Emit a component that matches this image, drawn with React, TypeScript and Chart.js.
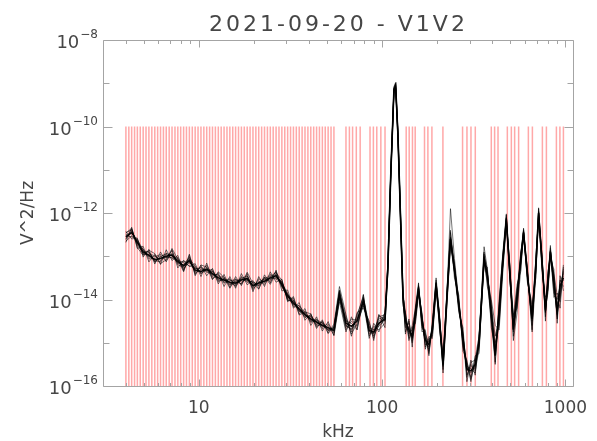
import React, { useEffect, useRef } from 'react';
import { Chart, registerables } from 'chart.js';

Chart.register(...registerables);

// ---------- text ----------
const titleText = '2021-09-20 - V1V2';
const xAxisTitle = 'kHz';
const yAxisTitle = 'V^2/Hz';

// ---------- axes ----------
const xMin = 3;
const xMax = 1100;
const yMin = 1e-16;
const yMax = 1e-8;
const xMajorTicks = [10, 100, 1000];
const xMajorLabels = ['10', '100', '1000'];
const xMinorTicks = [4, 5, 6, 7, 8, 9, 20, 30, 40, 50, 60, 70, 80, 90, 200, 300, 400, 500, 600, 700, 800, 900];
const yMajorTicks = [1e-16, 1e-14, 1e-12, 1e-10, 1e-8];
const yMajorBase = '10';
const yMajorSup = ['\u221216', '\u221214', '\u221212', '\u221210', '\u22128'];
const yMinorTicks = [1e-15, 1e-13, 1e-11, 1e-9];

// ---------- selected channels (red vertical lines, kHz) ----------
const channelFreqsKHz = [
  4.00, 4.15, 4.30, 4.46, 4.62, 4.79, 4.97, 5.15, 5.34, 5.54, 5.75, 5.96, 6.18, 6.41, 6.64, 6.89,
  7.14, 7.41, 7.68, 7.96, 8.26, 8.56, 8.88, 9.21, 9.55, 9.90, 10.27, 10.65, 11.04, 11.45, 11.87,
  12.31, 12.77, 13.24, 13.73, 14.24, 14.76, 15.31, 15.87, 16.46, 17.07, 17.70, 18.36, 19.03, 19.74,
  20.47, 21.22, 22.01, 22.82, 23.67, 24.54, 25.45, 26.39, 27.37, 28.38, 29.43, 30.52, 31.65, 32.82,
  34.03, 35.29, 36.60, 37.95, 39.36, 40.81, 42.32, 43.89, 45.51, 47.20, 48.94, 50.75, 52.63, 54.58,
  63.5, 66.3, 69.0, 72.3, 75.9, 85.9, 89.6, 93.5, 98.4, 103.7,
  135.3, 140.5, 146.4, 151.5, 170.3, 177.7, 186.9, 214.6,
  274.7, 290.3, 305.3, 322.3, 394.1, 410.9, 428.8, 482.1, 507.0, 528.4, 555.6,
  627.9, 660.4, 748.8, 787.5, 892.9, 933.1, 975.2,
];
const channelBottom = 1e-16;
const channelTop = 1e-10;

// ---------- spectra (log10 of V^2/Hz) ----------
const spectrumFreqsKHz = [
  4.00, 4.30, 4.62, 4.97, 5.34, 5.75, 6.18, 6.64, 7.14, 7.68, 8.26, 8.88, 9.55, 10.27, 11.04, 11.87,
  12.77, 13.73, 14.76, 15.87, 17.07, 18.36, 19.74, 21.22, 22.82, 24.54, 26.39, 28.38, 30.52, 32.82,
  35.29, 37.95, 40.81, 43.89, 47.20, 50.75, 54.58,
  58.5, 63.5, 68.0, 73.0, 79.0, 85.0, 90.0, 96.0,
  103.7, 107.5, 111.5, 116.0, 118.5, 122.0, 126.0, 130.0, 134.0,
  140, 146, 152, 158, 165, 172, 180, 188, 197, 205, 215, 225, 236, 248, 262, 276, 290, 305, 322, 338,
  360, 375, 394, 414, 435, 455, 476, 498, 520, 545, 570, 591, 620, 658, 690, 714, 745, 778, 803, 828,
  865, 902, 935, 975,
];

const spectrumMedianLog = [
  -12.55, -12.45, -12.68, -12.90, -12.98, -13.08, -13.05, -13.00, -12.97, -13.12, -13.22, -13.10, -13.32, -13.35, -13.30, -13.40,
  -13.50, -13.55, -13.60, -13.62, -13.55, -13.52, -13.68, -13.62, -13.58, -13.50, -13.45, -13.65, -13.92, -14.08,
  -14.22, -14.35, -14.45, -14.52, -14.60, -14.65, -14.72,
  -13.90, -14.55, -14.62, -14.50, -14.02, -14.72, -14.75, -14.55,
  -14.45, -13.25, -11.10, -9.15, -9.05, -10.20, -12.10, -13.95, -14.50,
  -14.70, -14.85, -14.35, -13.75, -14.47, -14.93, -15.05, -14.70, -13.65, -14.43, -15.50, -14.05, -12.60, -13.30, -14.10, -14.90, -15.60, -15.65, -15.50, -15.00,
  -13.05, -13.45, -14.35, -15.30, -14.25, -13.10, -12.15, -13.40, -14.70, -13.90, -13.10, -12.45, -13.40, -14.45, -13.20, -12.00, -13.10, -14.25, -13.60, -12.90,
  -13.60, -14.30, -13.70, -13.50,
];

const spectrumA_Log = [
  -12.50, -12.48, -12.60, -12.96, -12.96, -12.98, -13.10, -12.96, -13.05, -13.09, -13.15, -13.22, -13.27, -13.37, -13.21, -13.44,
  -13.44, -13.62, -13.57, -13.54, -13.60, -13.50, -13.74, -13.52, -13.61, -13.45, -13.53, -13.61, -13.86, -14.13,
  -14.15, -14.37, -14.40, -14.58, -14.52, -14.68, -14.68,
  -13.80, -14.40, -14.75, -14.35, -13.95, -14.60, -14.90, -14.40,
  -14.35, -13.15, -11.02, -9.10, -9.00, -10.12, -12.00, -13.85, -14.30,
  -14.85, -14.60, -14.20, -13.68, -14.60, -14.75, -15.25, -14.55, -13.50, -14.30, -15.40, -13.95, -12.45, -13.20, -14.00, -15.10, -15.45, -15.80, -15.35, -14.85,
  -12.90, -13.35, -14.20, -15.15, -14.40, -13.20, -12.05, -13.30, -14.85, -14.05, -13.00, -12.38, -13.30, -14.60, -13.30, -11.95, -13.00, -14.40, -13.45, -12.80,
  -13.75, -14.10, -13.90, -13.30,
];

const spectrumB_Log = [
  -12.61, -12.41, -12.70, -12.83, -13.06, -13.05, -12.99, -13.10, -12.93, -13.17, -13.20, -13.02, -13.39, -13.30, -13.33, -13.34,
  -13.59, -13.51, -13.62, -13.68, -13.47, -13.56, -13.61, -13.65, -13.53, -13.58, -13.42, -13.71, -13.90, -14.01,
  -14.27, -14.27, -14.49, -14.49, -14.67, -14.60, -14.82,
  -13.95, -14.70, -14.50, -14.62, -14.10, -14.85, -14.62, -14.70,
  -14.55, -13.35, -11.20, -9.25, -9.12, -10.30, -12.20, -14.05, -14.65,
  -14.55, -15.00, -14.50, -13.82, -14.35, -15.10, -14.90, -14.85, -13.75, -14.55, -15.62, -14.15, -12.70, -13.40, -14.25, -14.75, -15.75, -15.50, -15.65, -15.15,
  -13.15, -13.60, -14.50, -15.45, -14.10, -13.00, -12.25, -13.55, -14.55, -13.75, -13.20, -12.55, -13.50, -14.30, -13.05, -12.10, -13.25, -14.10, -13.75, -13.00,
  -13.45, -14.45, -13.55, -13.70,
];

const spectrumC_Log = [
  -12.45, -12.39, -12.73, -12.88, -12.90, -13.14, -13.02, -13.04, -12.87, -13.20, -13.25, -13.05, -13.23, -13.41, -13.26, -13.48,
  -13.48, -13.48, -13.65, -13.58, -13.64, -13.46, -13.70, -13.57, -13.65, -13.47, -13.37, -13.70, -13.96, -14.02,
  -14.24, -14.42, -14.36, -14.55, -14.55, -14.71, -14.64,
  -13.78, -14.60, -14.68, -14.40, -13.90, -14.80, -14.70, -14.45,
  -14.40, -13.20, -11.05, -9.18, -9.08, -10.25, -12.05, -13.90, -14.40,
  -14.90, -14.75, -14.25, -13.70, -14.55, -14.95, -15.15, -14.65, -13.60, -14.35, -15.45, -14.00, -11.90, -13.05, -14.05, -15.00, -15.55, -15.60, -15.70, -14.90,
  -12.78, -13.30, -14.40, -15.20, -14.30, -13.15, -12.10, -13.45, -14.75, -13.80, -12.95, -12.40, -13.45, -14.50, -13.15, -11.88, -13.15, -14.30, -13.55, -12.85,
  -13.70, -14.35, -13.60, -13.40,
];

const spectrumD_Log = [
  -12.65, -12.53, -12.64, -12.95, -12.92, -13.10, -13.13, -12.93, -13.00, -13.03, -13.28, -13.14, -13.29, -13.27, -13.37, -13.35,
  -13.54, -13.57, -13.52, -13.66, -13.49, -13.60, -13.64, -13.68, -13.49, -13.52, -13.50, -13.58, -13.99, -14.11,
  -14.14, -14.31, -14.51, -14.45, -14.64, -14.56, -14.77,
  -14.00, -14.45, -14.80, -14.55, -14.15, -14.55, -14.85, -14.60,
  -14.30, -13.30, -11.15, -9.20, -9.10, -10.18, -12.15, -14.00, -14.75,
  -14.50, -14.95, -14.45, -13.78, -14.65, -14.80, -15.00, -14.75, -13.70, -14.48, -15.55, -14.10, -12.65, -13.35, -14.15, -14.80, -15.90, -15.45, -15.40, -15.05,
  -13.10, -13.50, -14.00, -14.60, -14.70, -13.40, -12.20, -13.40, -14.35, -14.20, -13.35, -12.50, -13.35, -14.75, -13.40, -12.05, -13.05, -14.20, -13.85, -12.95,
  -13.40, -13.90, -14.20, -13.20,
];

const spectrumE_Log = [
  -12.52, -12.55, -12.62, -12.85, -13.02, -13.01, -12.96, -13.03, -13.03, -13.06, -13.31, -13.07, -13.36, -13.25, -13.35, -13.43,
  -13.42, -13.60, -13.54, -13.70, -13.52, -13.45, -13.77, -13.60, -13.52, -13.55, -13.35, -13.68, -13.87, -14.16,
  -14.19, -14.40, -14.38, -14.60, -14.58, -14.69, -14.66,
  -13.85, -14.50, -14.55, -14.70, -14.00, -14.75, -14.80, -14.35,
  -14.50, -13.28, -11.12, -9.12, -9.02, -10.22, -12.08, -13.98, -14.55,
  -14.65, -14.90, -14.30, -13.72, -14.40, -15.00, -15.10, -14.60, -13.62, -14.40, -15.48, -14.02, -12.58, -13.28, -14.08, -14.95, -15.62, -15.70, -15.55, -14.95,
  -13.00, -13.42, -14.32, -15.28, -14.22, -13.08, -12.12, -13.38, -14.68, -13.88, -13.08, -12.42, -13.38, -14.42, -13.18, -11.98, -13.08, -14.22, -13.58, -12.88,
  -13.58, -14.28, -13.65, -13.55,
];

const spectrumF_Log = [
  -12.59, -12.37, -12.75, -12.93, -12.89, -13.13, -13.01, -12.94, -12.99, -13.16, -13.12, -13.16, -13.24, -13.39, -13.32, -13.31,
  -13.56, -13.52, -13.67, -13.57, -13.53, -13.57, -13.59, -13.69, -13.55, -13.42, -13.49, -13.59, -14.01, -14.04,
  -14.28, -14.32, -14.53, -14.47, -14.54, -14.72, -14.69,
  -13.92, -14.65, -14.45, -14.48, -14.05, -14.68, -14.78, -14.50,
  -14.42, -13.22, -11.08, -9.15, -9.06, -10.15, -12.12, -13.92, -14.35,
  -14.80, -14.70, -14.40, -13.80, -14.50, -15.05, -14.95, -14.72, -13.68, -14.45, -15.52, -14.08, -12.62, -13.32, -14.12, -15.05, -15.50, -15.85, -15.45, -15.10,
  -13.08, -13.48, -14.15, -14.85, -14.45, -13.25, -12.18, -13.25, -14.50, -13.95, -13.15, -12.48, -13.55, -14.25, -13.35, -12.02, -13.20, -14.15, -13.40, -12.95,
  -13.85, -14.00, -13.80, -13.45,
];

const spectrumG_Log = [
  -12.43, -12.60, -12.58, -13.02, -12.84, -13.18, -12.90, -13.13, -12.85, -13.27, -13.09, -13.24, -13.17, -13.47, -13.16, -13.53,
  -13.38, -13.70, -13.47, -13.74, -13.40, -13.66, -13.56, -13.75, -13.43, -13.62, -13.32, -13.80, -13.78, -14.20,
  -14.07, -14.48, -14.33, -14.67, -14.47, -14.77, -14.57,
  -13.70, -14.35, -14.85, -14.30, -14.20, -14.50, -14.95, -14.35,
  -14.65, -13.10, -11.00, -9.08, -8.98, -10.10, -11.95, -13.80, -14.80,
  -14.45, -15.10, -14.15, -13.62, -14.75, -14.70, -15.30, -14.50, -13.55, -14.65, -15.35, -13.90, -12.40, -13.50, -13.90, -15.20, -15.40, -15.90, -15.30, -15.25,
  -12.95, -13.70, -14.05, -15.50, -14.00, -12.95, -12.02, -13.60, -14.40, -13.65, -13.35, -12.35, -13.60, -14.10, -13.50, -11.90, -13.35, -13.95, -13.80, -12.75,
  -13.95, -13.85, -14.05, -13.25,
];

const spectrumH_Log = [
  -12.68, -12.33, -12.82, -12.77, -13.13, -12.96, -13.19, -12.85, -13.10, -12.98, -13.34, -12.95, -13.45, -13.21, -13.45, -13.28,
  -13.64, -13.42, -13.72, -13.47, -13.68, -13.40, -13.82, -13.47, -13.70, -13.36, -13.60, -13.53, -14.05, -13.93,
  -14.34, -14.21, -14.60, -14.40, -14.73, -14.51, -14.84,
  -14.05, -14.75, -14.40, -14.70, -13.88, -14.90, -14.55, -14.75,
  -14.30, -13.40, -11.22, -9.20, -9.12, -10.35, -12.25, -14.15, -14.30,
  -14.95, -14.65, -14.55, -13.90, -14.30, -15.15, -14.85, -14.90, -13.80, -14.25, -15.70, -14.25, -12.75, -13.15, -14.30, -14.65, -15.80, -15.40, -15.75, -14.80,
  -13.20, -13.25, -14.65, -15.10, -14.60, -13.30, -12.28, -13.20, -14.95, -14.30, -12.90, -12.58, -13.25, -14.70, -13.00, -12.12, -12.95, -14.50, -13.35, -13.05,
  -13.30, -14.55, -13.45, -13.80,
];

const spectrumI_Log = [
  -12.47, -12.35, -12.80, -12.98, -12.86, -12.94, -13.17, -13.08, -12.82, -13.07, -13.36, -12.98, -13.42, -13.20, -13.25, -13.54,
  -13.36, -13.49, -13.74, -13.52, -13.65, -13.37, -13.63, -13.76, -13.48, -13.65, -13.39, -13.55, -14.04, -13.96,
  -14.36, -14.29, -14.33, -14.64, -14.50, -14.79, -14.62,
  -13.82, -14.60, -14.70, -14.45, -14.10, -14.65, -14.70, -14.62,
  -14.48, -13.18, -11.06, -9.14, -9.04, -10.18, -12.02, -13.88, -14.60,
  -14.75, -14.80, -14.28, -13.74, -14.42, -14.88, -15.20, -14.68, -13.62, -14.38, -15.42, -14.00, -12.55, -13.25, -14.20, -14.85, -15.65, -15.55, -15.60, -14.90,
  -13.02, -13.40, -14.30, -15.00, -14.55, -13.20, -12.12, -13.48, -14.60, -14.10, -13.05, -12.44, -13.45, -14.35, -13.25, -11.98, -13.12, -14.30, -13.65, -12.88,
  -13.50, -14.20, -13.95, -13.35,
];

const spectraLog = [
  spectrumA_Log, spectrumB_Log, spectrumC_Log, spectrumD_Log, spectrumE_Log,
  spectrumF_Log, spectrumG_Log, spectrumH_Log, spectrumI_Log,
];

// ---------- style ----------
const FONT = '"DejaVu Sans", "Liberation Sans", sans-serif';
const TEXT_COLOR = '#464646';
const AXIS_COLOR = '#a4a4a4';

function toPoints(logs: number[]) {
  return spectrumFreqsKHz.map((f, i) => ({ x: f, y: Math.pow(10, logs[i]) }));
}

const framePlugin = {
  id: 'idlFrame',
  afterDatasetsDraw(chart: any) {
    const { ctx, chartArea: a, scales } = chart;
    const xs = scales.x;
    const ys = scales.y;
    const L = Math.round(a.left) + 0.5;
    const R = Math.round(a.right) + 0.5;
    const T = Math.round(a.top) + 0.5;
    const B = Math.round(a.bottom) + 0.5;
    ctx.save();
    ctx.strokeStyle = AXIS_COLOR;
    ctx.lineWidth = 1;
    ctx.beginPath();
    ctx.moveTo(L, T); ctx.lineTo(R, T); ctx.lineTo(R, B); ctx.lineTo(L, B); ctx.closePath();
    const seg = (x1: number, y1: number, x2: number, y2: number) => { ctx.moveTo(x1, y1); ctx.lineTo(x2, y2); };
    xMajorTicks.forEach((v) => {
      const px = Math.round(xs.getPixelForValue(v)) + 0.5;
      seg(px, B, px, B - 7); seg(px, T, px, T + 7);
    });
    xMinorTicks.forEach((v) => {
      const px = Math.round(xs.getPixelForValue(v)) + 0.5;
      seg(px, B, px, B - 3.5); seg(px, T, px, T + 3.5);
    });
    yMajorTicks.forEach((v) => {
      const py = Math.round(ys.getPixelForValue(v)) + 0.5;
      seg(L, py, L + 9, py); seg(R, py, R - 9, py);
    });
    yMinorTicks.forEach((v) => {
      const py = Math.round(ys.getPixelForValue(v)) + 0.5;
      seg(L, py, L + 6, py); seg(R, py, R - 6, py);
    });
    ctx.stroke();

    ctx.fillStyle = TEXT_COLOR;
    ctx.textBaseline = 'alphabetic';
    // x tick labels
    ctx.font = `17px ${FONT}`;
    ctx.textAlign = 'center';
    xMajorTicks.forEach((v, i) => {
      ctx.fillText(xMajorLabels[i], xs.getPixelForValue(v), a.bottom + 27);
    });
    // y tick labels with superscripts
    yMajorTicks.forEach((v, i) => {
      const py = ys.getPixelForValue(v);
      ctx.font = `12px ${FONT}`;
      ctx.textAlign = 'right';
      const supW = ctx.measureText(yMajorSup[i]).width;
      const rightEdge = a.left - 5;
      ctx.fillText(yMajorSup[i], rightEdge, py - 2);
      ctx.font = `18px ${FONT}`;
      ctx.fillText(yMajorBase, rightEdge - supW - 1, py + 8);
    });
    // axis titles
    ctx.font = `17px ${FONT}`;
    ctx.textAlign = 'center';
    ctx.fillText(xAxisTitle, (a.left + a.right) / 2, a.bottom + 51);
    ctx.save();
    ctx.translate(33, (a.top + a.bottom) / 2);
    ctx.rotate(-Math.PI / 2);
    ctx.fillText(yAxisTitle, 0, 0);
    ctx.restore();
    // title
    ctx.font = `22px ${FONT}`;
    (ctx as any).letterSpacing = '3px';
    ctx.textAlign = 'left';
    ctx.fillText(titleText, 209, a.top - 9);
    (ctx as any).letterSpacing = '0px';
    ctx.restore();
  },
};

export default function App() {
  const canvasRef = useRef<HTMLCanvasElement | null>(null);

  useEffect(() => {
    const canvas = canvasRef.current;
    if (!canvas) return;

    const channelPoints: any[] = [];
    channelFreqsKHz.forEach((f) => {
      channelPoints.push({ x: f, y: channelBottom }, { x: f, y: channelTop }, { x: f, y: null });
    });

    const spectrumDatasets = spectraLog.map((logs) => ({
      data: toPoints(logs),
      borderColor: 'rgba(0,0,0,0.55)',
      borderWidth: 1,
      pointRadius: 0,
      tension: 0,
      fill: false,
    }));

    const chart = new Chart(canvas, {
      type: 'line',
      data: {
        datasets: [
          {
            data: toPoints(spectrumMedianLog),
            borderColor: 'rgba(0,0,0,0.95)',
            borderWidth: 1.6,
            pointRadius: 0,
            tension: 0,
            fill: false,
          },
          ...spectrumDatasets,
          {
            data: channelPoints,
            borderColor: 'rgb(255,168,168)',
            borderWidth: 1.5,
            pointRadius: 0,
            tension: 0,
            spanGaps: false,
            fill: false,
          },
        ] as any,
      },
      options: {
        responsive: false,
        animation: false,
        events: [],
        layout: { padding: { left: 0, right: 24, top: 40, bottom: 0 } },
        plugins: {
          legend: { display: false },
          title: { display: false },
          tooltip: { enabled: false },
        },
        scales: {
          x: {
            type: 'logarithmic',
            min: xMin,
            max: xMax,
            grid: { display: false },
            border: { display: false },
            ticks: { display: false },
            afterFit: (s: any) => { s.height = 55; },
          },
          y: {
            type: 'logarithmic',
            min: yMin,
            max: yMax,
            grid: { display: false },
            border: { display: false },
            ticks: { display: false },
            afterFit: (s: any) => { s.width = 103; },
          },
        },
      },
      plugins: [framePlugin],
    });

    return () => chart.destroy();
  }, []);

  return (
    <div style={{ position: 'absolute', left: 0, top: 0, width: 597, height: 441, background: '#fff' }}>
      <canvas ref={canvasRef} width={597} height={441} style={{ display: 'block' }} />
    </div>
  );
}
